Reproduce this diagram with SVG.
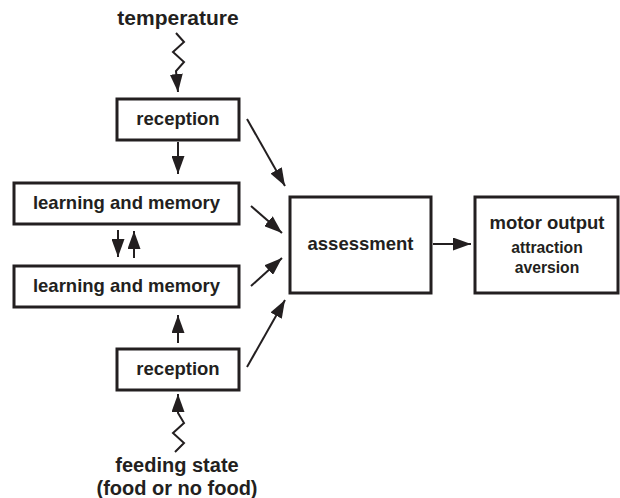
<svg xmlns="http://www.w3.org/2000/svg" width="620" height="498" viewBox="0 0 620 498">
<style>
.box{fill:#fff;stroke:#231f20;stroke-width:3}
.t{font-family:"Liberation Sans",Arial,sans-serif;font-weight:bold;fill:#231f20;text-anchor:middle}
.l{font-size:18.5px}
.big{font-size:21px}
.fs{font-size:20px}
.s{font-size:15.7px}
.c{fill:none;stroke:#231f20;stroke-width:2}
</style>
<defs>
<marker id="ah" markerUnits="userSpaceOnUse" markerWidth="18" markerHeight="13" refX="18" refY="6.5" orient="auto">
<path d="M0,0 L18,6.5 L0,13 z" fill="#231f20"/>
</marker>
</defs>
<text class="t big" x="178" y="25">temperature</text>
<text class="t fs" x="177" y="472">feeding state</text>
<text class="t fs" x="177" y="494.5">(food or no food)</text>
<g id="reception1"><rect class="box" x="117" y="99" width="122" height="41"/><text class="t l" x="178" y="125">reception</text></g>
<g id="learning1"><rect class="box" x="14" y="183" width="225" height="41"/><text class="t l" x="126.5" y="209">learning and memory</text></g>
<g id="learning2"><rect class="box" x="14" y="266" width="225" height="41"/><text class="t l" x="126.5" y="292">learning and memory</text></g>
<g id="reception2"><rect class="box" x="117" y="349" width="122" height="41"/><text class="t l" x="178" y="375">reception</text></g>
<g id="assessment"><rect class="box" x="290" y="197" width="141" height="96"/><text class="t l" x="360.5" y="250">assessment</text></g>
<g id="motor"><rect class="box" x="475" y="197" width="143" height="96"/><text class="t l" x="547" y="229">motor output</text><text class="t s" x="547" y="253">attraction</text><text class="t s" x="547" y="273">aversion</text></g>
<g id="connectors">
<polyline class="c" points="176,33 184,42 173,52 184,62 176,71 178,92" marker-end="url(#ah)"/>
<polyline class="c" points="175,452 184,443 173,433 184,423 178,413 178,394" marker-end="url(#ah)"/>
<line class="c" x1="178" y1="142" x2="178" y2="174" marker-end="url(#ah)"/>
<line class="c" x1="118" y1="230" x2="118" y2="257" marker-end="url(#ah)"/>
<line class="c" x1="134" y1="258" x2="134" y2="231" marker-end="url(#ah)"/>
<line class="c" x1="178" y1="343" x2="178" y2="315" marker-end="url(#ah)"/>
<line class="c" x1="247" y1="119" x2="285" y2="186" marker-end="url(#ah)"/>
<line class="c" x1="251" y1="206" x2="282" y2="233" marker-end="url(#ah)"/>
<line class="c" x1="251" y1="286" x2="282" y2="258" marker-end="url(#ah)"/>
<line class="c" x1="247" y1="367" x2="285" y2="300" marker-end="url(#ah)"/>
<line class="c" x1="433" y1="244" x2="471" y2="244" marker-end="url(#ah)"/>
</g>
</svg>
